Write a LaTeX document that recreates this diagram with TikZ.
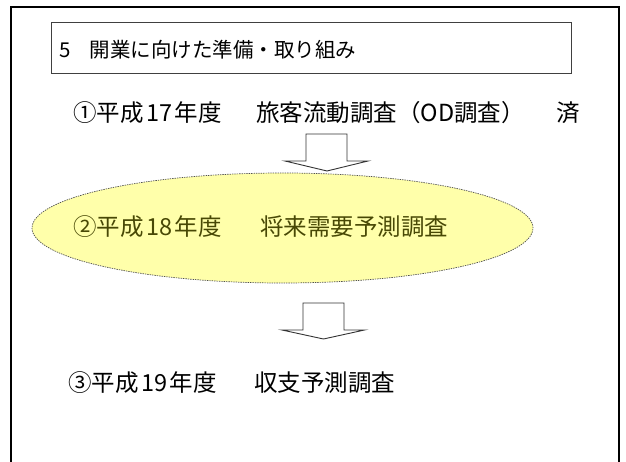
\documentclass[tikz,border=0pt]{standalone}
\usepackage{fontspec}
\setmainfont{Noto Sans CJK JP}
\usetikzlibrary{shapes.geometric}
\definecolor{ellfill}{RGB}{255,255,170}
\definecolor{elltext}{RGB}{72,72,5}
\definecolor{elledge}{RGB}{80,80,80}
\newcommand{\dg}[1]{\makebox[31pt][c]{#1}}
\tikzset{
  frameline/.style={line width=2.2pt,black},
  titlebox/.style={draw=black!75,line width=0.9pt,minimum width=520pt,minimum height=51pt,inner sep=0pt},
  titletext/.style={anchor=base west,inner sep=0pt,font=\fontsize{20.5pt}{20.5pt}\selectfont},
  linetext/.style={anchor=base west,inner sep=0pt,font=\fontsize{23.5pt}{23.5pt}\selectfont},
  ellbox/.style={ellipse,draw=elledge,fill=ellfill,line width=0.7pt,dash pattern=on 1.4pt off 1pt,minimum width=501pt,minimum height=110pt,inner sep=0pt},
  blockarrow/.style={draw=black!80,line width=0.9pt,fill=white,line join=miter}
}
\begin{document}
\begin{tikzpicture}[x=1pt,y=-1pt]
\useasboundingbox (0,0) rectangle (626,462);
\begin{scope}
  \clip (0,0) rectangle (626,462);
  \draw[frameline] (11,480) -- (11,7) -- (619,7) -- (619,480);
\end{scope}
% title
\node[titlebox] (title) at (311,47.5) {};
\node[titletext] (titlet) at (59,57.5) {5\hspace{19pt}開業に向けた準備・取り組み};
% line 1
\node[linetext] (l1a) at (73,122) {①平成\dg{17}年度};
\node[linetext] (l1b) at (256,122) {旅客流動調査（OD調査）};
\node[linetext] (done) at (556,122) {済};
% arrow 1
\coordinate (a1) at (327,134);
\draw[blockarrow] ([xshift=-21pt]a1) -- ([xshift=20pt]a1) -- ([xshift=20pt,yshift=-27pt]a1) -- ([xshift=41pt,yshift=-27pt]a1)
  -- ([yshift=-37pt]a1) -- ([xshift=-42pt,yshift=-27pt]a1) -- ([xshift=-21pt,yshift=-27pt]a1) -- cycle;
% ellipse
\node[ellbox] (ell) at (282.5,228) {};
\node[linetext,text=elltext] (l2a) at (73,236) {②平成\dg{18}年度};
\node[linetext,text=elltext] (l2b) at (260,236) {将来需要予測調査};
% arrow 2
\coordinate (a2) at (323.5,303);
\draw[blockarrow] ([xshift=-20.5pt]a2) -- ([xshift=20.5pt]a2) -- ([xshift=20.5pt,yshift=-27pt]a2) -- ([xshift=41pt,yshift=-27pt]a2)
  -- ([yshift=-36pt]a2) -- ([xshift=-41.5pt,yshift=-27pt]a2) -- ([xshift=-20.5pt,yshift=-27pt]a2) -- cycle;
% line 3
\node[linetext] (l3a) at (68,391) {③平成\dg{19}年度};
\node[linetext] (l3b) at (254,391) {収支予測調査};
\end{tikzpicture}
\end{document}
